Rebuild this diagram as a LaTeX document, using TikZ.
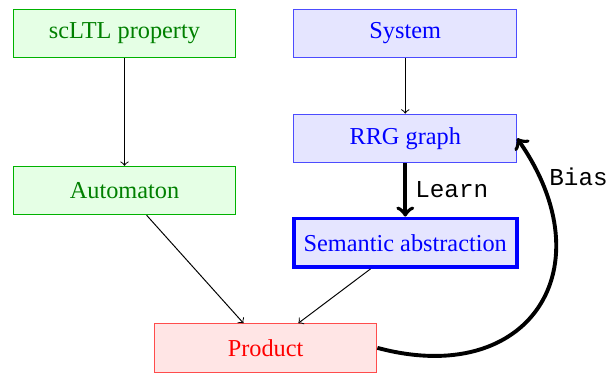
\documentclass[tikz,border=0pt]{standalone}
\usepackage{fontspec}
\setmainfont{Liberation Serif}
\setmonofont{Liberation Mono}
\usetikzlibrary{positioning}

\begin{document}
\begin{tikzpicture}[
  blk/.style={draw, rectangle, minimum width=3.22cm, minimum height=0.7cm, align=center},
  spec/.style={blk, draw=green!70!black, fill=green!10, text=green!50!black},
  sys/.style={blk, draw=blue!70, fill=blue!10, text=blue},
  prod/.style={blk, draw=red!70, fill=red!10, text=red},
  lnk/.style={->, thin},
  fat/.style={->, ultra thick},
  lbl/.style={font=\ttfamily},
]
\useasboundingbox (0,0) rectangle (8.835,-5.379);
\node[spec] (prop) at (1.80,-0.485) {scLTL property};
\node[spec] (aut) at (1.80,-2.755) {Automaton};
\node[sys] (sys) at (5.86,-0.485) {System};
\node[sys] (rrg) at (5.86,-2.00) {RRG graph};
\node[sys, draw=blue, ultra thick] (abs) at (5.86,-3.51) {Semantic abstraction};
\node[prod] (prd) at (3.84,-5.03) {Product};
% arrows
\draw[lnk] (prop) -- (aut);
\draw[lnk] (sys) -- (rrg);
\draw[fat] (rrg) -- (abs) node[midway, right, lbl] {Learn};
\draw[lnk] (aut) -- (prd);
\draw[lnk] (abs) -- (prd);
\draw[fat] (prd.east) to[out=-15, in=-55, looseness=1.6] node[pos=0.9, right, lbl] {Bias} (rrg.east);
\end{tikzpicture}
\end{document}
